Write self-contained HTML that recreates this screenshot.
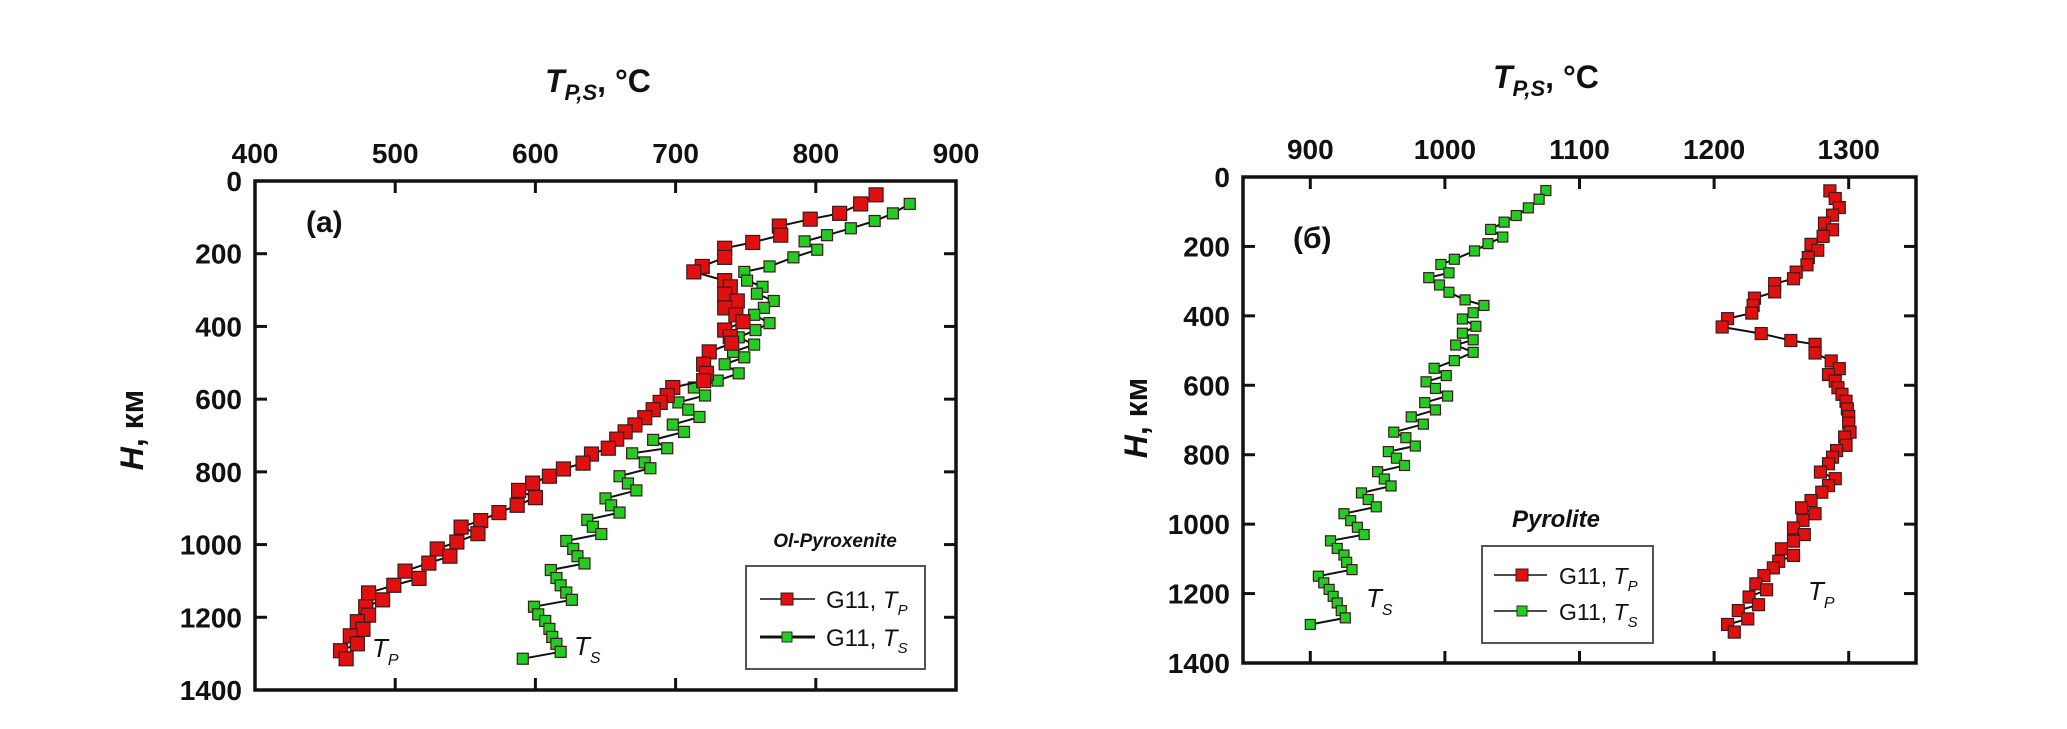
<!DOCTYPE html>
<html><head><meta charset="utf-8">
<style>
html,body{margin:0;padding:0;background:#fff;}
svg{display:block;font-family:"Liberation Sans","DejaVu Sans",sans-serif;}
.tick{font-size:28px;font-weight:bold;fill:#111;}
</style></head>
<body>
<svg id="chart" width="2067" height="729" viewBox="0 0 2067 729" xmlns="http://www.w3.org/2000/svg">
<rect width="2067" height="729" fill="#fff"/>
<g id="pa"></g>
<g id="pb"></g>
</svg>
<script>
// ---- Panel (a) Ol-Pyroxenite data ----
const aTpT=[843,832,817,796,774,775,755,735,735,719,713,735,739,735,744,735,743,748,735,739,740,724,720,722,720,698,694,689,684,678,671,664,658,652,640,634,620,610,598,588,600,587,574,561,547,559,544,530,539,524,507,517,499,481,491,479,481,473,477,468,473,461,465];
const aTpH=[38,63,89,105,124,149,169,185,210,235,250,274,291,311,330,349,368,387,410,428,446,470,504,529,549,568,590,609,629,651,671,690,710,735,751,776,792,812,831,851,871,892,912,934,952,970,993,1012,1032,1051,1073,1093,1112,1133,1152,1171,1194,1212,1233,1251,1273,1292,1314];
const aTsT=[867,855,842,825,808,792,801,784,767,749,751,762,758,770,763,756,767,757,745,756,741,749,735,745,730,713,721,702,709,717,698,706,684,694,669,678,682,660,666,672,650,654,660,637,641,647,622,627,630,635,611,615,618,622,626,599,602,607,610,612,615,618,591];
const aTsH=[63,89,110,130,149,166,189,210,235,250,274,291,310,330,349,368,391,410,430,450,470,485,504,529,549,568,590,609,629,649,670,690,712,735,749,774,790,812,832,851,873,892,912,932,951,971,990,1012,1032,1052,1070,1092,1112,1132,1152,1171,1192,1210,1232,1254,1273,1295,1314];
const aXTicks=[400,500,600,700,800,900];
const aYTicks=[0,200,400,600,800,1000,1200,1400];
// ---- Panel (б) Pyrolite data ----
const bTpT=[1286,1290,1293,1288,1282,1288,1281,1272,1277,1270,1269,1261,1259,1245,1245,1230,1229,1228,1210,1206,1235,1257,1275,1275,1287,1293,1285,1290,1292,1295,1298,1299,1300,1300,1301,1297,1298,1291,1288,1285,1279,1290,1285,1280,1272,1265,1275,1266,1259,1267,1259,1250,1259,1248,1244,1237,1231,1239,1226,1233,1218,1225,1210,1215];
const bTpH=[40,62,88,110,133,152,171,194,211,232,253,274,293,307,331,349,370,392,408,432,451,471,482,507,530,552,569,588,607,626,646,668,690,709,735,749,773,788,807,826,850,869,889,908,932,953,970,989,1011,1030,1049,1071,1090,1107,1126,1148,1172,1189,1210,1232,1249,1273,1289,1311];
const bTsT=[1075,1070,1062,1053,1044,1034,1043,1032,1022,1007,997,1003,988,996,1003,1015,1029,1021,1013,1023,1013,1021,1008,1021,1007,992,1001,986,993,1002,985,993,975,984,962,971,978,958,964,970,950,955,960,938,943,949,925,930,935,940,915,920,925,927,931,906,910,914,917,920,923,926,900];
const bTsH=[39,64,89,111,130,151,173,192,213,237,252,276,290,311,332,354,370,391,409,430,450,469,484,505,529,551,572,590,609,631,650,671,691,712,735,751,775,791,810,831,849,870,890,910,929,950,970,990,1009,1030,1048,1070,1089,1110,1131,1150,1169,1188,1208,1227,1249,1270,1289];
const bXTicks=[900,1000,1100,1200,1300];
const bYTicks=[0,200,400,600,800,1000,1200,1400];

const NS='http://www.w3.org/2000/svg';
function mk(parent,tag,attrs,text){
  const e=document.createElementNS(NS,tag);
  for(const k in attrs) e.setAttribute(k,attrs[k]);
  if(text!==undefined) e.textContent=text;
  parent.appendChild(e); return e;
}
function panel(g,cfg){
  const L=cfg.L,R=cfg.R,T=cfg.T,B=cfg.B;
  const sx=v=>L+(v-cfg.x0)/(cfg.x1-cfg.x0)*(R-L);
  const sy=v=>T+(v-0)/1400*(B-T);
  const frame=mk(g,'rect',{x:L,y:T,width:R-L,height:B-T,fill:'none',stroke:'#111','stroke-width':3.5});
  
  
  cfg.xt.forEach(v=>{
    const x=sx(v);
    if(x>L+2&&x<R-2){
      const t1=mk(g,'line',{x1:x,y1:T,x2:x,y2:T+12,stroke:'#111','stroke-width':3});
      
      
      const t2=mk(g,'line',{x1:x,y1:B,x2:x,y2:B-12,stroke:'#111','stroke-width':3});
      
      
    }
    const lb=mk(g,'text',{x:x,y:T-18,'text-anchor':'middle',class:'tick'},String(v));
    
    
  });
  cfg.yt.forEach(v=>{
    const y=sy(v);
    if(y>T+2&&y<B-2){
      const t1=mk(g,'line',{x1:L,y1:y,x2:L+12,y2:y,stroke:'#111','stroke-width':3});
      
      
      const t2=mk(g,'line',{x1:R,y1:y,x2:R-12,y2:y,stroke:'#111','stroke-width':3});
      
      
    }
    const lb=mk(g,'text',{x:L-13,y:y+10,'text-anchor':'end',class:'tick'},String(v));
    
    
  });
  function series(Ts,Hs,color,size,name){
    const sg=mk(g,'g',{});
    
    
    const pts=Ts.map((t,i)=>sx(t).toFixed(1)+','+sy(Hs[i]).toFixed(1)).join(' ');
    const pl=mk(sg,'polyline',{points:pts,fill:'none',stroke:'#111','stroke-width':2});
    
    
    Ts.forEach((t,i)=>{
      const r=mk(sg,'rect',{x:sx(t)-size/2,y:sy(Hs[i])-size/2,width:size,height:size,fill:color,stroke:'#3a1a1a','stroke-width':1.2});
      
      
    });
  }
  series(cfg.tsT,cfg.tsH,'#22cc22',cfg.gs,'ts-series');
  series(cfg.tpT,cfg.tpH,'#e01010',cfg.rs,'tp-series');
}
const pa=document.getElementById('pa'), pb=document.getElementById('pb');
panel(pa,{L:255,R:956,T:181,B:690,x0:400,x1:900,xt:aXTicks,yt:aYTicks,tpT:aTpT,tpH:aTpH,tsT:aTsT,tsH:aTsH,rs:14,gs:11});
panel(pb,{L:1243,R:1916,T:177,B:663,x0:850,x1:1350,xt:bXTicks,yt:bYTicks,tpT:bTpT,tpH:bTpH,tsT:bTsT,tsH:bTsH,rs:12,gs:10});
</script>
<svg style="position:absolute;left:0;top:0" width="2067" height="729">
  <g font-family="Liberation Sans, sans-serif" fill="#111">
    <text x="545" y="92" font-size="32" font-weight="bold"><tspan font-style="italic">T</tspan><tspan font-style="italic" font-size="22" dy="8">P,S</tspan><tspan dy="-8">, °C</tspan></text>
    <text x="1493" y="88" font-size="32" font-weight="bold"><tspan font-style="italic">T</tspan><tspan font-style="italic" font-size="22" dy="8">P,S</tspan><tspan dy="-8">, °C</tspan></text>
    <text transform="translate(143,430) rotate(-90)" text-anchor="middle" font-size="32" font-weight="bold"><tspan font-style="italic">H</tspan>, км</text>
    <text transform="translate(1147,418) rotate(-90)" text-anchor="middle" font-size="32" font-weight="bold"><tspan font-style="italic">H</tspan>, км</text>
    <text x="306" y="232" font-size="30" font-weight="bold">(a)</text>
    <text x="1293" y="248" font-size="30" font-weight="bold">(б)</text>
    <text x="835" y="547" text-anchor="middle" font-size="19" font-weight="bold" font-style="italic">Ol-Pyroxenite</text>
    <text x="1556" y="527" text-anchor="middle" font-size="24" font-weight="bold" font-style="italic">Pyrolite</text>
    <text x="372" y="657" font-size="26" font-style="italic">T<tspan font-size="16" dy="8">P</tspan></text>
    <text x="574" y="655" font-size="26" font-style="italic">T<tspan font-size="16" dy="8">S</tspan></text>
    <text x="1366" y="607" font-size="26" font-style="italic">T<tspan font-size="16" dy="8">S</tspan></text>
    <text x="1808" y="600" font-size="26" font-style="italic">T<tspan font-size="16" dy="8">P</tspan></text>
  </g>
  <g>
    <rect x="746" y="566" width="179" height="103" fill="#fff" stroke="#555" stroke-width="2"/>
    <line x1="760" y1="599" x2="815" y2="599" stroke="#111" stroke-width="1.5"/>
    <rect x="781" y="593" width="12" height="12" fill="#e01010" stroke="#3a1a1a"/>
    <text x="826" y="608" font-family="Liberation Sans, sans-serif" font-size="24" fill="#111">G11, <tspan font-style="italic">T</tspan><tspan font-style="italic" font-size="15" dy="7">P</tspan></text>
    <line x1="760" y1="637" x2="815" y2="637" stroke="#111" stroke-width="3"/>
    <rect x="782" y="632" width="10" height="10" fill="#22cc22" stroke="#1a3a1a"/>
    <text x="826" y="646" font-family="Liberation Sans, sans-serif" font-size="24" fill="#111">G11, <tspan font-style="italic">T</tspan><tspan font-style="italic" font-size="15" dy="7">S</tspan></text>
  </g>
  <g>
    <rect x="1482" y="546" width="171" height="97" fill="#fff" stroke="#555" stroke-width="2"/>
    <line x1="1494" y1="575" x2="1547" y2="575" stroke="#111" stroke-width="1.5"/>
    <rect x="1516" y="569" width="12" height="12" fill="#e01010" stroke="#3a1a1a"/>
    <text x="1559" y="584" font-family="Liberation Sans, sans-serif" font-size="23" fill="#111">G11, <tspan font-style="italic">T</tspan><tspan font-style="italic" font-size="15" dy="7">P</tspan></text>
    <line x1="1494" y1="611" x2="1547" y2="611" stroke="#111" stroke-width="1.5"/>
    <rect x="1517" y="606" width="10" height="10" fill="#22cc22" stroke="#1a3a1a"/>
    <text x="1559" y="620" font-family="Liberation Sans, sans-serif" font-size="23" fill="#111">G11, <tspan font-style="italic">T</tspan><tspan font-style="italic" font-size="15" dy="7">S</tspan></text>
  </g>
</svg>
</body></html>
